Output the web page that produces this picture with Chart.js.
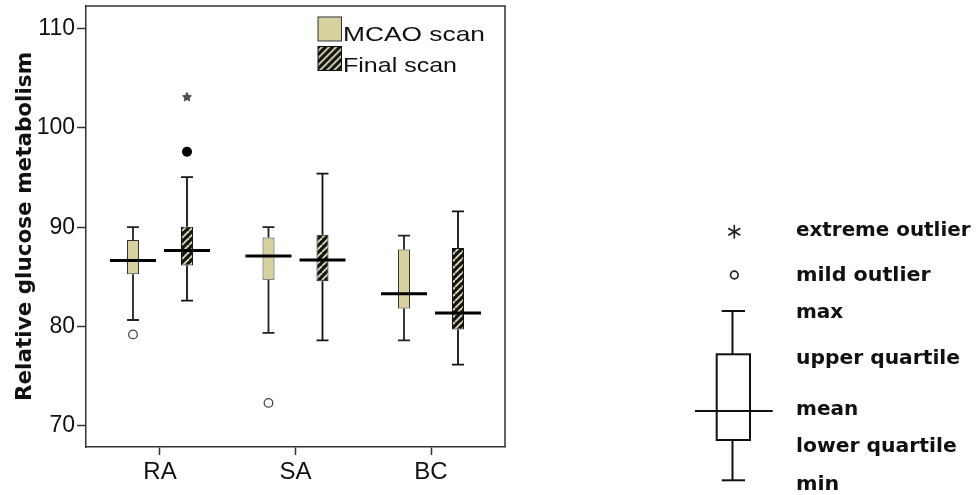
<!DOCTYPE html>
<html>
<head>
<meta charset="utf-8">
<script src="https://cdn.jsdelivr.net/npm/chart.js@4.4.1/dist/chart.umd.min.js"></script>
<style>
  html, body { margin: 0; padding: 0; background: #ffffff; }
  #wrap { position: relative; width: 977px; height: 495px; overflow: hidden; background: #fff; }
  #chartBox { position: absolute; left: 0; top: 0; width: 977px; height: 495px; }
  #overlay { position: absolute; left: 0; top: 0; pointer-events: none; }
  .lg { font-family: "Liberation Sans", Arial, sans-serif; font-size: 21px; fill: #111; }
  .key { font-family: "DejaVu Sans", sans-serif; font-weight: bold; font-size: 20px; fill: #111; }
</style>
</head>
<body>
<div id="wrap">
  <div id="chartBox"><canvas id="c"></canvas></div>
  <svg id="overlay" width="977" height="495" xmlns="http://www.w3.org/2000/svg">
    <defs>
      <pattern id="hatch" width="5" height="5" patternUnits="userSpaceOnUse" patternTransform="rotate(45)">
        <rect width="5" height="5" fill="#151515"/>
        <rect width="1.8" height="5" fill="#d9d5b6"/>
      </pattern>
    </defs>
    <!-- legend -->
    <rect x="318" y="17" width="23.5" height="24" fill="#d7d1a0" stroke="#333" stroke-width="1"/>
    <rect x="318" y="46.5" width="23.5" height="24" fill="url(#hatch)" stroke="#111" stroke-width="1"/>
    <text class="lg" x="343" y="41" textLength="142" lengthAdjust="spacingAndGlyphs">MCAO scan</text>
    <text class="lg" x="343" y="71.5" textLength="114" lengthAdjust="spacingAndGlyphs">Final scan</text>
    <!-- key glyphs -->
    <g stroke="#222" stroke-width="1.7" fill="none">
      <line x1="734.3" y1="224.8" x2="734.3" y2="238.6"/>
      <line x1="728.3" y1="228.2" x2="740.3" y2="235.2"/>
      <line x1="728.3" y1="235.2" x2="740.3" y2="228.2"/>
      <circle cx="734.3" cy="275" r="3.8"/>
    </g>
    <g stroke="#111" stroke-width="2" fill="none">
      <line x1="721.7" y1="311" x2="745" y2="311"/>
      <line x1="732.5" y1="311" x2="732.5" y2="354.3"/>
      <rect x="716.7" y="354.3" width="33.3" height="85.7"/>
      <line x1="695" y1="411" x2="772.7" y2="411"/>
      <line x1="732.5" y1="440" x2="732.5" y2="480.3"/>
      <line x1="721.7" y1="480.3" x2="745" y2="480.3"/>
    </g>
    <text class="key" x="796" y="235.7" textLength="174.5" lengthAdjust="spacingAndGlyphs">extreme outlier</text>
    <text class="key" x="796" y="281" textLength="134.7" lengthAdjust="spacingAndGlyphs">mild outlier</text>
    <text class="key" x="796" y="318.3" textLength="47.3" lengthAdjust="spacingAndGlyphs">max</text>
    <text class="key" x="796" y="364.3" textLength="164" lengthAdjust="spacingAndGlyphs">upper quartile</text>
    <text class="key" x="796" y="415" textLength="62.3" lengthAdjust="spacingAndGlyphs">mean</text>
    <text class="key" x="796" y="451.7" textLength="160.7" lengthAdjust="spacingAndGlyphs">lower quartile</text>
    <text class="key" x="796" y="490" textLength="43.3" lengthAdjust="spacingAndGlyphs">min</text>
  </svg>
</div>
<script>
// ---------------- data ----------------
const categories = ['RA', 'SA', 'BC'];
const yTicks = [70, 80, 90, 100, 110];

const mcaoMin  = [80.65, 79.35, 78.6];
const mcaoQ1   = [85.25, 84.7, 81.8];
const mcaoMean = [86.65, 87.1, 83.3];
const mcaoQ3   = [88.7, 88.95, 87.75];
const mcaoMax  = [90.0, 90.0, 89.15];
const mcaoMildOutliers = [79.2, 72.3, null];

const finalMin  = [82.6, 78.6, 76.15];
const finalQ1   = [86.15, 84.55, 79.7];
const finalMean = [87.65, 86.7, 81.35];
const finalQ3   = [90.05, 89.25, 87.9];
const finalMax  = [95.05, 95.4, 91.6];
const finalFilledOutliers  = [97.6, null, null];
const finalExtremeOutliers = [103.1, null, null];

// ---------------- helpers ----------------
const CAT_PCT = 0.797;
const BAR_PCT = 0.222;
const groupOffset = [-CAT_PCT / 4, CAT_PCT / 4];

function boxData(q1, q3) {
  return categories.map((c, i) => ({ x: i + 1, y: [q1[i], q3[i]] }));
}
function outlierData(vals, g) {
  const out = [];
  vals.forEach((v, i) => { if (v !== null) out.push({ x: i + 1 + groupOffset[g], y: v }); });
  return out;
}
function hatchPattern() {
  const s = 7;
  const c = document.createElement('canvas');
  c.width = s; c.height = s;
  const g = c.getContext('2d');
  g.fillStyle = '#151515';
  g.fillRect(0, 0, s, s);
  g.strokeStyle = '#d9d5b6';
  g.lineWidth = 1.9;
  for (let k = -1; k <= 1; k++) {
    g.beginPath();
    g.moveTo(k * s, s);
    g.lineTo(k * s + s, 0);
    g.stroke();
  }
  return document.createElement('canvas').getContext('2d').createPattern(c, 'repeat');
}
function starImage(r) {
  const size = Math.ceil(r * 2 + 2);
  const c = document.createElement('canvas');
  c.width = size; c.height = size;
  const g = c.getContext('2d');
  g.translate(size / 2, size / 2);
  g.beginPath();
  for (let k = 0; k < 10; k++) {
    const a = -Math.PI / 2 + k * Math.PI / 5;
    const rr = (k % 2) ? r * 0.45 : r;
    g.lineTo(rr * Math.cos(a), rr * Math.sin(a));
  }
  g.closePath();
  g.fillStyle = '#555';
  g.fill();
  g.strokeStyle = '#222';
  g.lineWidth = 0.8;
  g.stroke();
  return c;
}

const boxStats = [
  { min: mcaoMin, mean: mcaoMean, max: mcaoMax, whisker: '#222' },
  { min: finalMin, mean: finalMean, max: finalMax, whisker: '#111' }
];
const boxQ = [[mcaoQ1, mcaoQ3], [finalQ1, finalQ3]];

const boxParts = {
  id: 'boxParts',
  beforeDatasetsDraw(chart) {
    const { ctx } = chart;
    const y = chart.scales.y;
    ctx.save();
    boxStats.forEach((st, d) => {
      const meta = chart.getDatasetMeta(d);
      meta.data.forEach((bar, i) => {
        const x = bar.x, hw = bar.width / 2;
        ctx.strokeStyle = st.whisker;
        ctx.lineWidth = 1.8;
        ctx.beginPath();
        ctx.moveTo(x, y.getPixelForValue(boxQ[d][1][i]));
        ctx.lineTo(x, y.getPixelForValue(st.max[i]));
        ctx.moveTo(x, y.getPixelForValue(boxQ[d][0][i]));
        ctx.lineTo(x, y.getPixelForValue(st.min[i]));
        ctx.moveTo(x - hw, y.getPixelForValue(st.max[i]));
        ctx.lineTo(x + hw, y.getPixelForValue(st.max[i]));
        ctx.moveTo(x - hw, y.getPixelForValue(st.min[i]));
        ctx.lineTo(x + hw, y.getPixelForValue(st.min[i]));
        ctx.stroke();
      });
    });
    ctx.restore();
  },
  afterDatasetsDraw(chart) {
    const { ctx } = chart;
    const y = chart.scales.y;
    ctx.save();
    boxStats.forEach((st, d) => {
      const meta = chart.getDatasetMeta(d);
      meta.data.forEach((bar, i) => {
        const x = bar.x, hl = bar.width * 1.92;
        const py = y.getPixelForValue(st.mean[i]);
        ctx.strokeStyle = '#000';
        ctx.lineWidth = 3;
        ctx.beginPath();
        ctx.moveTo(x - hl, py);
        ctx.lineTo(x + hl, py);
        ctx.stroke();
      });
    });
    ctx.restore();
  }
};

const plotFrame = {
  id: 'plotFrame',
  afterDraw(chart) {
    const { ctx, chartArea: a } = chart;
    ctx.save();
    ctx.strokeStyle = '#333';
    ctx.lineWidth = 1.5;
    ctx.beginPath();
    ctx.moveTo(a.left, a.top);
    ctx.lineTo(a.right, a.top);
    ctx.lineTo(a.right, a.bottom);
    ctx.stroke();
    ctx.restore();
  }
};

new Chart(document.getElementById('c'), {
  type: 'bar',
  data: {
    datasets: [
      {
        label: 'MCAO scan',
        data: boxData(mcaoQ1, mcaoQ3),
        backgroundColor: '#d7d1a0',
        borderColor: '#333',
        borderWidth: 1,
        borderSkipped: false,
        categoryPercentage: CAT_PCT,
        barPercentage: BAR_PCT,
        order: 2
      },
      {
        label: 'Final scan',
        data: boxData(finalQ1, finalQ3),
        backgroundColor: hatchPattern(),
        borderColor: '#111',
        borderWidth: 1,
        borderSkipped: false,
        categoryPercentage: CAT_PCT,
        barPercentage: BAR_PCT,
        order: 2
      },
      {
        type: 'scatter',
        label: 'mild outlier',
        data: outlierData(mcaoMildOutliers, 0),
        pointStyle: 'circle',
        pointRadius: 4.3,
        pointBackgroundColor: '#fff',
        pointBorderColor: '#444',
        pointBorderWidth: 1.3,
        order: 1
      },
      {
        type: 'scatter',
        label: 'outlier',
        data: outlierData(finalFilledOutliers, 1),
        pointStyle: 'circle',
        pointRadius: 5,
        pointBackgroundColor: '#000',
        pointBorderColor: '#000',
        pointBorderWidth: 0,
        order: 1
      },
      {
        type: 'scatter',
        label: 'extreme outlier',
        data: outlierData(finalExtremeOutliers, 1),
        pointStyle: starImage(4.6),
        pointRadius: 5,
        order: 1
      }
    ]
  },
  options: {
    responsive: true,
    maintainAspectRatio: false,
    animation: false,
    devicePixelRatio: 1,
    layout: { padding: { left: 0, top: 5, right: 472, bottom: 0 } },
    plugins: { legend: { display: false }, tooltip: { enabled: false } },
    scales: {
      x: {
        type: 'linear',
        min: 0.454,
        max: 3.546,
        offset: false,
        afterBuildTicks: s => { s.ticks = categories.map((c, i) => ({ value: i + 1 })); },
        afterFit: s => { s.height = 48; s.paddingLeft = 0; s.paddingRight = 0; },
        grid: { display: true, drawOnChartArea: false, offset: false, tickLength: 8, tickColor: '#333', tickWidth: 1.5 },
        border: { display: true, color: '#333', width: 1.5 },
        ticks: {
          autoSkip: false, maxRotation: 0, padding: 3,
          color: '#111',
          font: { family: '"Liberation Sans", Arial, sans-serif', size: 24 },
          callback: v => categories[Math.round(v) - 1]
        }
      },
      y: {
        type: 'linear',
        min: 67.86,
        max: 112.28,
        afterBuildTicks: s => { s.ticks = yTicks.map(v => ({ value: v })); },
        afterFit: s => { s.width = 86; s.paddingTop = 0; s.paddingBottom = 0; },
        grid: { display: true, drawOnChartArea: false, tickLength: 9, tickColor: '#333', tickWidth: 1.5 },
        border: { display: true, color: '#333', width: 1.5 },
        ticks: {
          padding: 2,
          color: '#111',
          font: { family: '"Liberation Sans", Arial, sans-serif', size: 23 }
        },
        title: {
          display: true,
          text: 'Relative glucose metabolism',
          color: '#111',
          font: { family: '"DejaVu Sans", sans-serif', size: 21.5, weight: 'bold' },
          padding: { top: 13, bottom: 0 }
        }
      }
    }
  },
  plugins: [boxParts, plotFrame]
});
</script>
</body>
</html>
